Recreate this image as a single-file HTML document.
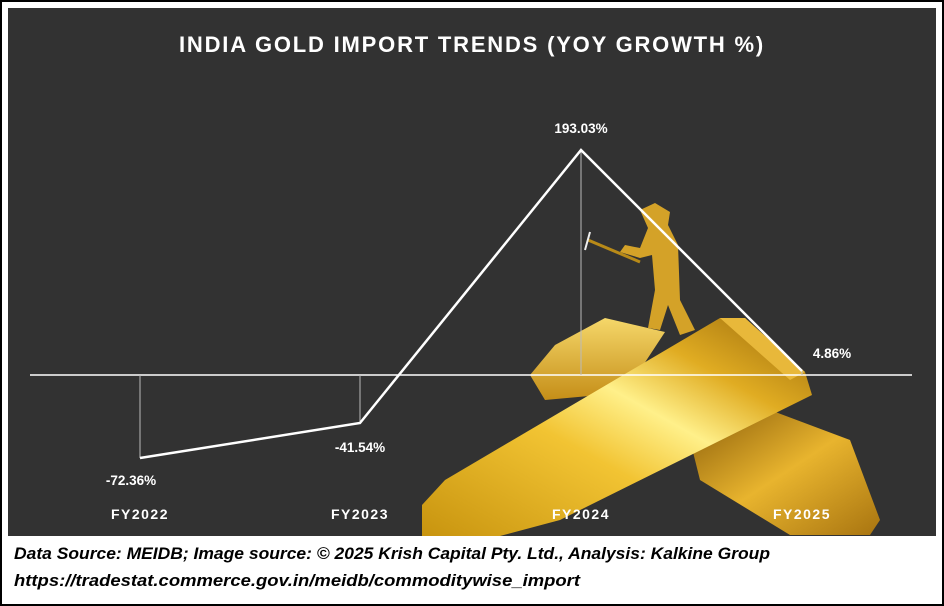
<!DOCTYPE html>
<html><head><meta charset="utf-8"><style>
body{margin:0;background:#fff;}
.wrap{position:relative;width:944px;height:606px;overflow:hidden;font-family:"Liberation Sans",sans-serif;}
</style></head><body><div class="wrap">
<svg width="944" height="606" viewBox="0 0 944 606" style="position:absolute;left:0;top:0">
<defs>
<linearGradient id="g1" x1="0" y1="1" x2="1" y2="0"><stop offset="0" stop-color="#c8940f"/><stop offset="0.4" stop-color="#f2c433"/><stop offset="0.58" stop-color="#fff08a"/><stop offset="0.75" stop-color="#e0ac22"/><stop offset="1" stop-color="#9a6a0c"/></linearGradient>
<linearGradient id="g2" x1="0" y1="0" x2="1" y2="1"><stop offset="0" stop-color="#8a5d0a"/><stop offset="0.5" stop-color="#e8b42e"/><stop offset="1" stop-color="#a87410"/></linearGradient>
<linearGradient id="g3" x1="0" y1="0" x2="0" y2="1"><stop offset="0" stop-color="#f5d76a"/><stop offset="1" stop-color="#c58e18"/></linearGradient>
</defs>
<rect x="1" y="1" width="942" height="604" fill="#fff" stroke="#000" stroke-width="2"/>
<rect x="8" y="8" width="928" height="528" fill="#323232"/>
<text x="472" y="52" fill="#fff" font-size="22" font-weight="bold" text-anchor="middle" letter-spacing="1.8">INDIA GOLD IMPORT TRENDS (YOY GROWTH %)</text>
<polygon points="530,375 555,345 605,318 665,332 640,370 600,395 545,400" fill="url(#g3)"/>
<polygon points="690,440 770,410 850,440 880,520 870,535 790,535 700,480" fill="url(#g2)"/>
<polygon points="422,505 445,480 720,318 745,318 805,372 812,395 560,520 500,536 422,536" fill="url(#g1)"/>
<polygon points="720,318 745,318 805,372 790,380" fill="#e8b83a"/>
<path d="M640,210 L655,203 L670,212 L668,225 L678,245 L680,300 L695,330 L680,335 L668,305 L660,330 L648,328 L655,290 L652,255 L640,258 L620,252 L625,245 L640,248 L648,228 Z" fill="#d4a228"/>
<line x1="588" y1="240" x2="640" y2="262" stroke="#b88a18" stroke-width="3"/>
<line x1="590" y1="232" x2="585" y2="250" stroke="#eee" stroke-width="2"/>
<line x1="30" y1="375" x2="912" y2="375" stroke="#fff" stroke-width="1.5"/>
<g stroke="#bbb" stroke-width="1"><line x1="140" y1="375" x2="140" y2="458"/><line x1="360" y1="375" x2="360" y2="423"/><line x1="581" y1="150" x2="581" y2="375"/><line x1="802" y1="371" x2="802" y2="375"/></g>
<polyline points="140,458 360,423 581,150 802,371" fill="none" stroke="#fff" stroke-width="2.5"/>
<g fill="#fff" font-size="13.5" font-weight="bold" text-anchor="middle">
<text x="131" y="485">-72.36%</text><text x="360" y="452">-41.54%</text><text x="581" y="133">193.03%</text><text x="832" y="358">4.86%</text>
</g>
<g fill="#fff" font-size="14" font-weight="bold" text-anchor="middle" letter-spacing="1.5">
<text x="140" y="519">FY2022</text><text x="360" y="519">FY2023</text><text x="581" y="519">FY2024</text><text x="802" y="519">FY2025</text>
</g>
<g fill="#000" font-size="17" font-weight="bold" font-style="italic">
<text x="14" y="559" textLength="756" lengthAdjust="spacingAndGlyphs">Data Source: MEIDB; Image source: © 2025 Krish Capital Pty. Ltd., Analysis: Kalkine Group</text>
<text x="14" y="586" textLength="566" lengthAdjust="spacingAndGlyphs">https://tradestat.commerce.gov.in/meidb/commoditywise_import</text>
</g>
</svg>
</div></body></html>
